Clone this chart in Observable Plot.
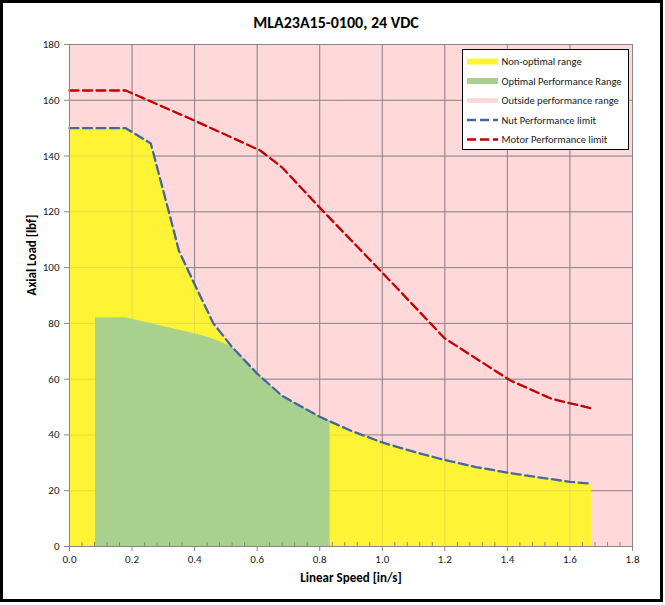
<!DOCTYPE html>
<html>
<head>
<meta charset="utf-8">
<script src="https://cdn.jsdelivr.net/npm/d3@7"></script>
<script src="https://cdn.jsdelivr.net/npm/@observablehq/plot@0.6"></script>
<style>
  html, body { margin: 0; padding: 0; background: white; }
  #chart { position: relative; width: 665px; height: 605px; }
</style>
</head>
<body>
<div id="chart"></div>
<script>
// Titles
const chartTitle = "MLA23A15-0100, 24 VDC";
const xTitle = "Linear Speed [in/s]";
const yTitle = "Axial Load [lbf]";

// Axis ticks
const xTicks = [0, 0.2, 0.4, 0.6, 0.8, 1.0, 1.2, 1.4, 1.6, 1.8];
const yTicks = [0, 20, 40, 60, 80, 100, 120, 140, 160, 180];

// Nut performance limit (also bounds the non-optimal range)
const nutSpeed = [0, 0.18, 0.26, 0.32, 0.35, 0.40, 0.46, 0.52, 0.60, 0.68, 0.80, 0.90, 1.00, 1.10, 1.20, 1.30, 1.40, 1.50, 1.60, 1.67];
const nutLoad  = [150, 150, 144.5, 119, 106, 94, 80, 71.5, 62, 54, 46.5, 41.5, 37.3, 34, 31, 28.5, 26.5, 24.8, 23.2, 22.5];

// Motor performance limit
const motorSpeed = [0, 0.18, 0.40, 0.61, 0.68, 0.80, 1.00, 1.20, 1.41, 1.54, 1.67];
const motorLoad  = [163.5, 163.5, 152.7, 142, 135.9, 121.5, 98.2, 74.6, 59.5, 53, 49.5];

// Optimal performance range
const optimalSpeed = [0.083, 0.18, 0.43, 0.48, 0.52, 0.60, 0.68, 0.80, 0.833];
const optimalLoad  = [82, 82, 75.5, 73.5, 71.5, 62, 54, 46.5, 45];

// Outside performance range (whole plot)
const outsideSpeed = [0, 1.8];
const outsideLoad  = [180, 180];

// Legend entries
const legendLabels = ["Non-optimal range", "Optimal Performance Range", "Outside performance range", "Nut Performance limit", "Motor Performance limit"];

const zip = (xs, ys) => xs.map((x, i) => ({speed: x, load: ys[i]}));
const nut = zip(nutSpeed, nutLoad);
const motor = zip(motorSpeed, motorLoad);
const optimal = zip(optimalSpeed, optimalLoad);
const outside = zip(outsideSpeed, outsideLoad);

const FONT = "Carlito, Lato, 'Open Sans', sans-serif";
const PINK = "#FFD9DA";
const YELLOW = "#FFF336";
const GREEN = "#A9D18E";
const BLUE = "#45679F";
const RED = "#C00000";
const GRID = "#8C8686";

const W = 665, H = 605, mt = 44, mr = 33, mb = 59, ml = 69;
const plotH = H - mt - mb;
// minor tick positions: five per major interval
const xMinor = d3.range(0, 1.8001, 0.04).filter(v => Math.abs(v / 0.2 - Math.round(v / 0.2)) > 1e-6);

const dash = "9,4.5";

const svg = Plot.plot({
  width: W, height: H,
  marginTop: mt, marginRight: mr, marginBottom: mb, marginLeft: ml,
  x: {domain: [0, 1.8]},
  y: {domain: [0, 180]},
  style: {fontFamily: FONT, fontSize: "11px", background: "white", color: "#1a1a1a"},
  marks: [
    Plot.areaY(outside, {x: "speed", y: "load", fill: PINK}),
    Plot.gridX(xTicks, {stroke: GRID, strokeOpacity: 1}),
    Plot.gridY(yTicks, {stroke: GRID, strokeOpacity: 1}),
    Plot.areaY(nut, {x: "speed", y: "load", fill: YELLOW}),
    // faint grid showing through the non-optimal range
    Plot.gridX(xTicks, {stroke: GRID, strokeOpacity: 0.2}),
    Plot.gridY(yTicks, {stroke: GRID, strokeOpacity: 0.2}),
    Plot.areaY(optimal, {x: "speed", y: "load", fill: GREEN}),
    Plot.lineY(nut, {x: "speed", y: "load", stroke: BLUE, strokeWidth: 2.3, strokeDasharray: dash}),
    Plot.lineY(motor, {x: "speed", y: "load", stroke: RED, strokeWidth: 2.3, strokeDasharray: dash}),
    // inward minor ticks on the x axis
    Plot.axisX(xMinor, {tickSize: 4, dy: -4, tickFormat: () => "", stroke: GRID, label: null}),
    Plot.ruleX([0], {stroke: GRID}),
    Plot.axisX(xTicks, {tickSize: 5, tickPadding: 4, tickFormat: d3.format(".1f"), stroke: GRID, fill: "#1a1a1a", label: null}),
    Plot.axisY(yTicks, {tickSize: 5, tickPadding: 5, stroke: GRID, fill: "#1a1a1a", label: null}),
    Plot.text([xTitle], {frameAnchor: "bottom", dy: 35, fontWeight: "bold", fontSize: 13, fill: "#000"}),
    Plot.text([yTitle], {frameAnchor: "left", dx: -38, rotate: -90, fontWeight: "bold", fontSize: 13, fill: "#000"}),
    Plot.text([chartTitle], {frameAnchor: "top", dx: -15, dy: -28, fontWeight: "bold", fontSize: 16, fill: "#000"})
  ]
});

// Legend box
const s = d3.select(svg);
const lg = s.append("g").attr("font-family", FONT).attr("font-size", 10.5).attr("text-anchor", "start");
lg.append("rect").attr("x", 462.5).attr("y", 49.5).attr("width", 166).attr("height", 100)
  .attr("fill", "white").attr("stroke", "black").attr("stroke-width", 1);
const rowY = [61.5, 81, 100.5, 120, 139.5];
const swatches = [
  {stroke: YELLOW, width: 6, dash: null},
  {stroke: GREEN, width: 6, dash: null},
  {stroke: PINK, width: 5, dash: null},
  {stroke: BLUE, width: 2.3, dash: "9,4"},
  {stroke: RED, width: 2.3, dash: "9,4"}
];
legendLabels.forEach((label, i) => {
  const sw = swatches[i];
  const line = lg.append("line").attr("x1", 467).attr("x2", 498).attr("y1", rowY[i]).attr("y2", rowY[i])
    .attr("stroke", sw.stroke).attr("stroke-width", sw.width);
  if (sw.dash) line.attr("stroke-dasharray", sw.dash);
  lg.append("text").attr("x", 501.5).attr("y", rowY[i]).attr("dy", "0.35em")
    .attr("text-anchor", "start").attr("fill", "#1a1a1a").text(label);
});

// Outer chart border
s.append("rect").attr("x", 1.5).attr("y", 1.5).attr("width", 660).attr("height", 599)
  .attr("fill", "none").attr("stroke", "black").attr("stroke-width", 3);

document.getElementById("chart").appendChild(svg);
</script>
</body>
</html>
